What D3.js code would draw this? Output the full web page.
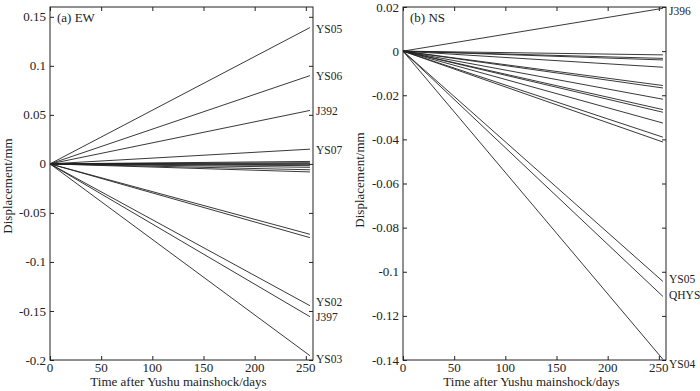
<!DOCTYPE html>
<html>
<head>
<meta charset="utf-8">
<script src="https://cdn.jsdelivr.net/npm/d3@7"></script>
<style>
  html, body { margin: 0; padding: 0; background: #fff; }
  svg { display: block; }
</style>
</head>
<body>
<div id="chart"></div>
<script>
// Sample days of every series (start and end of the record)
const days = [0, 254];

// EW component: displacement (mm) at each sample day
const ewNames = ['YS05', 'YS06', 'J392', 'YS07', 'e1', 'e2', 'e3', 'e4', 'e5', 'e6', 'e7', 'e8',
  'e9', 'e10', 'YS02', 'J397', 'YS03'];
const ewValues = [
  [0, 0.139], [0, 0.090], [0, 0.0545], [0, 0.015],
  [0, 0.0025], [0, 0.0012], [0, 0.0003], [0, -0.0008], [0, -0.0018], [0, -0.0035], [0, -0.006], [0, -0.0082],
  [0, -0.0718], [0, -0.0752],
  [0, -0.1446], [0, -0.1558], [0, -0.1956],
];
const ewLabels = ['YS05', 'YS06', 'J392', 'YS07', 'YS02', 'J397', 'YS03'];
const ewLabelAt = [0.1375, 0.090, 0.054, 0.0145, -0.141, -0.156, -0.1985];
const ewTicks = [0.15, 0.1, 0.05, 0, -0.05, -0.1, -0.15, -0.2];

// NS component
const nsNames = ['J396', 'n1', 'n2', 'n3', 'n4', 'n5', 'n6', 'n7', 'n8', 'n9', 'n10', 'n11', 'n12',
  'YS05', 'QHYS', 'YS04'];
const nsValues = [
  [0, 0.0194],
  [0, -0.0017], [0, -0.0033], [0, -0.0040], [0, -0.0073], [0, -0.0156], [0, -0.0167],
  [0, -0.0218], [0, -0.0265], [0, -0.0277], [0, -0.0326], [0, -0.0390], [0, -0.0412],
  [0, -0.1044], [0, -0.1112], [0, -0.1397],
];
const nsLabels = ['J396', 'YS05', 'QHYS', 'YS04'];
const nsLabelAt = [0.0182, -0.1032, -0.1107, -0.1417];
const nsTicks = [0.02, 0, -0.02, -0.04, -0.06, -0.08, -0.1, -0.12, -0.14];

const xTicks = [0, 50, 100, 150, 200, 250];

const W = 700, H = 391;
const FONT = "'Liberation Serif', 'Times New Roman', Times, serif";
const INK = '#222';

const svg = d3.select('#chart').append('svg')
  .attr('width', W).attr('height', H);

const fmt = v => (v === 0 ? '0' : String(v));

const drawPanel = (p) => {
  const x = d3.scaleLinear().domain([0, 257]).range([p.left, p.right]);
  const y = d3.scaleLinear().domain(p.yDomain).range([p.bottom, p.top]);
  const g = svg.append('g').attr('font-family', FONT);

  // series
  const line = d3.line().x((d, i) => x(days[i])).y(d => y(d));
  g.selectAll('path.series').data(p.values).enter().append('path')
    .attr('class', 'series')
    .attr('d', d => line(d))
    .attr('fill', 'none')
    .attr('stroke', INK)
    .attr('stroke-width', 0.9);

  // axes (inward ticks on all four sides)
  const tick = 4;
  g.append('g').attr('transform', `translate(${p.left},0)`)
    .call(d3.axisRight(y).tickValues(p.yTicks).tickSize(tick).tickFormat(''));
  g.append('g').attr('transform', `translate(${p.right},0)`)
    .call(d3.axisLeft(y).tickValues(p.yTicks).tickSize(tick).tickFormat(''));
  g.append('g').attr('transform', `translate(0,${p.bottom})`)
    .call(d3.axisTop(x).tickValues(xTicks).tickSize(tick).tickFormat(''));
  g.append('g').attr('transform', `translate(0,${p.top})`)
    .call(d3.axisBottom(x).tickValues(xTicks).tickSize(tick).tickFormat(''));
  g.selectAll('.domain').remove();
  g.selectAll('.tick line').attr('stroke', INK);

  g.append('rect')
    .attr('x', p.left).attr('y', p.top)
    .attr('width', p.right - p.left).attr('height', p.bottom - p.top)
    .attr('fill', 'none').attr('stroke', INK).attr('stroke-width', 1);

  // tick labels
  g.selectAll('text.ylab').data(p.yTicks).enter().append('text')
    .attr('x', p.left - 4).attr('y', d => y(d))
    .attr('dy', '0.35em').attr('text-anchor', 'end')
    .attr('font-size', 13).attr('fill', INK)
    .text(fmt);
  g.selectAll('text.xlab').data(xTicks).enter().append('text')
    .attr('x', d => x(d)).attr('y', p.bottom + 12)
    .attr('text-anchor', 'middle')
    .attr('font-size', 13).attr('fill', INK)
    .text(d => d);

  // axis titles
  g.append('text')
    .attr('transform', `translate(${p.titleX},${p.titleY}) rotate(-90)`)
    .attr('text-anchor', 'middle').attr('dy', '0.35em')
    .attr('font-size', 13).attr('fill', INK)
    .text('Displacement/mm');
  g.append('text')
    .attr('x', (p.left + p.right) / 2 - 3).attr('y', H - 5)
    .attr('text-anchor', 'middle')
    .attr('font-size', 13).attr('fill', INK)
    .text('Time after Yushu mainshock/days');

  // panel title
  g.append('text')
    .attr('x', p.left + 7).attr('y', p.top + 15)
    .attr('font-size', 13).attr('fill', INK)
    .text(p.title);

  // station labels
  g.selectAll('text.st').data(p.labels).enter().append('text')
    .attr('x', p.right + p.labelPad).attr('y', (d, i) => y(p.labelAt[i]))
    .attr('dy', '0.35em')
    .attr('font-size', 11.5).attr('fill', INK)
    .text(d => d);
};

drawPanel({
  left: 50, right: 313, top: 7, bottom: 360,
  yDomain: [-0.2, 0.16], yTicks: ewTicks,
  values: ewValues, labels: ewLabels, labelAt: ewLabelAt,
  title: '(a) EW', labelPad: 3, titleX: 7, titleY: 186,
});

drawPanel({
  left: 403, right: 666, top: 7, bottom: 360,
  yDomain: [-0.14, 0.02], yTicks: nsTicks,
  values: nsValues, labels: nsLabels, labelAt: nsLabelAt,
  title: '(b) NS', labelPad: 3, titleX: 359, titleY: 180,
});
</script>
</body>
</html>
